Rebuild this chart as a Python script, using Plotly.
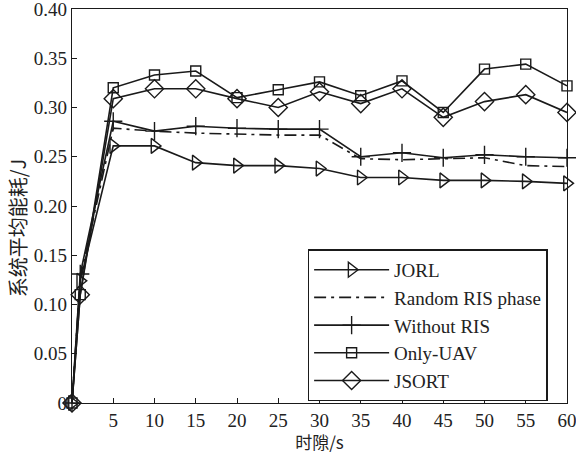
import plotly.graph_objects as go

x_vals = [0, 1, 5, 10, 15, 20, 25, 30, 35, 40, 45, 50, 55, 60]

jorl = [0, 0.124, 0.261, 0.261, 0.244, 0.241, 0.241, 0.238, 0.229, 0.229, 0.226, 0.226, 0.225, 0.223]
random_ris = [0, 0.127, 0.279, 0.276, 0.274, 0.273, 0.272, 0.272, 0.248, 0.247, 0.248, 0.249, 0.241, 0.240]
without_ris = [0, 0.131, 0.286, 0.276, 0.281, 0.279, 0.278, 0.278, 0.250, 0.254, 0.249, 0.252, 0.250, 0.249]
only_uav = [0, 0.110, 0.320, 0.333, 0.337, 0.310, 0.318, 0.326, 0.312, 0.327, 0.295, 0.339, 0.344, 0.322]
jsort = [0, 0.110, 0.309, 0.319, 0.319, 0.309, 0.300, 0.316, 0.304, 0.319, 0.290, 0.306, 0.313, 0.295]

y_tickvals = [0, 0.05, 0.10, 0.15, 0.20, 0.25, 0.30, 0.35, 0.40]
y_ticktext = ["0", "0.05", "0.10", "0.15", "0.20", "0.25", "0.30", "0.35", "0.40"]
x_tickvals = [5, 10, 15, 20, 25, 30, 35, 40, 45, 50, 55, 60]

LC = "#1a1a1a"
FONT = "Liberation Serif"
CJK = "Noto Sans CJK SC, " + FONT

fig = go.Figure()

def add(name, y, symbol, size, dash="solid", mode="lines+markers"):
    fig.add_trace(go.Scatter(
        x=x_vals, y=y, name=name, mode=mode,
        line=dict(color=LC, width=1.6, dash=dash),
        marker=dict(symbol=symbol, size=size, color=LC,
                    line=dict(color=LC, width=1.4)),
        cliponaxis=False,
    ))

add("JORL", jorl, "triangle-right-open", 13)
add("Random RIS phase", random_ris, "circle", 1, dash="12px,5px,3px,5px", mode="lines")
add("Without RIS", without_ris, "cross-thin-open", 13)
add("Only-UAV", only_uav, "square-open", 10)
add("JSORT", jsort, "diamond-open", 14)

fig.update_layout(
    width=576, height=454,
    margin=dict(l=72, r=9, t=9, b=51, autoexpand=False),
    plot_bgcolor="white", paper_bgcolor="white",
    font=dict(family=FONT, size=19, color="#222"),
    showlegend=True,
    legend=dict(
        x=0.476, y=0.39, xanchor="left", yanchor="top",
        bgcolor="white", bordercolor=LC, borderwidth=1.5,
        font=dict(family=FONT, size=19, color="#222"),
        tracegroupgap=0, itemwidth=75, entrywidth=242,
    ),
    xaxis=dict(
        range=[0, 60], tickvals=x_tickvals, ticks="inside", ticklen=5,
        tickcolor=LC, showline=True, linecolor=LC, linewidth=1.3, mirror=True,
        showgrid=False, zeroline=False, ticklabeloverflow="allow", automargin=False,
        title=dict(text="时隙/s", font=dict(family=CJK, size=17), standoff=6),
    ),
    yaxis=dict(
        range=[0, 0.40], tickvals=y_tickvals, ticktext=y_ticktext, ticks="inside", ticklen=5,
        tickcolor=LC, showline=True, linecolor=LC, linewidth=1.3, mirror=True,
        showgrid=False, zeroline=False, ticklabeloverflow="allow", automargin=False,
    ),
    annotations=[dict(
        text="系统平均能耗/J", textangle=-90, showarrow=False,
        xref="paper", yref="paper", x=-0.110, y=0.445,
        xanchor="center", yanchor="middle",
        font=dict(family=CJK, size=20, color="#222"),
    )],
)

fig.write_html("out.html")
